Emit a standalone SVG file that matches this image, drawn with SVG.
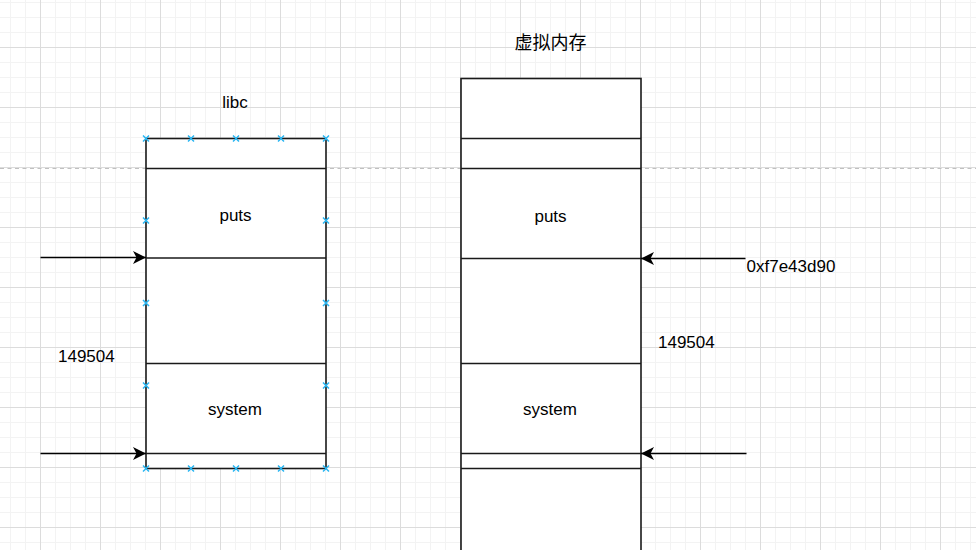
<svg xmlns="http://www.w3.org/2000/svg" width="976" height="550" viewBox="0 0 976 550">
  <defs>
    <pattern id="grid" patternUnits="userSpaceOnUse" x="40" y="47" width="60" height="60">
      <rect x="0" y="0" width="60" height="60" fill="#ffffff"/>
      <rect x="15" y="0" width="1" height="60" fill="#f3f3f3"/>
      <rect x="30" y="0" width="1" height="60" fill="#f3f3f3"/>
      <rect x="45" y="0" width="1" height="60" fill="#f3f3f3"/>
      <rect x="0" y="15" width="60" height="1" fill="#f3f3f3"/>
      <rect x="0" y="30" width="60" height="1" fill="#f3f3f3"/>
      <rect x="0" y="45" width="60" height="1" fill="#f3f3f3"/>
      <rect x="0" y="0" width="1" height="60" fill="#dcdcdc"/>
      <rect x="0" y="0" width="60" height="1" fill="#dcdcdc"/>
    </pattern>
    <marker id="arrow" markerUnits="userSpaceOnUse" viewBox="0 0 14 14" markerWidth="14" markerHeight="14" refX="13" refY="7" orient="auto">
      <path d="M0,0.5 L13,7 L0,13.5 L3.5,7 Z" fill="#000000"/>
    </marker>
    <path id="xmark" d="M-3,-3 L3,3 M-3,3 L3,-3" stroke="#29b6f2" stroke-width="1.5" fill="none"/>
  </defs>
  <style>
    .box { fill: #ffffff; stroke: #1a1a1a; stroke-width: 1.6; }
    .sep { stroke: #1a1a1a; stroke-width: 1.6; fill: none; }
    .lbl { font-family: "Liberation Sans", Arial, sans-serif; font-size: 17px; fill: #000000; }
    .cjk { font-family: "Liberation Sans", "Noto Sans CJK SC", sans-serif; font-size: 18px; fill: #000000; }
    .conn { stroke: #000000; stroke-width: 1.5; fill: none; marker-end: url(#arrow); }
  </style>

  <rect x="0" y="0" width="976" height="550" fill="url(#grid)"/>
  <line x1="0" y1="168.5" x2="976" y2="168.5" stroke="#c0c0c0" stroke-width="1" stroke-dasharray="4 3.5"/>

  <g id="libc-title">
    <text class="lbl" x="235" y="107.5" text-anchor="middle">libc</text>
  </g>

  <g id="libc">
    <rect class="box" x="146" y="138.5" width="180" height="330"/>
    <line class="sep" x1="146" y1="168.5" x2="326" y2="168.5"/>
    <line class="sep" x1="146" y1="258" x2="326" y2="258"/>
    <line class="sep" x1="146" y1="363.5" x2="326" y2="363.5"/>
    <line class="sep" x1="146" y1="453.5" x2="326" y2="453.5"/>
    <text class="lbl" x="235.5" y="221" text-anchor="middle">puts</text>
    <text class="lbl" x="235" y="414.5" text-anchor="middle">system</text>
  </g>

  <g id="libc-handles">
    <use href="#xmark" x="146" y="138.5"/>
    <use href="#xmark" x="191" y="138.5"/>
    <use href="#xmark" x="236" y="138.5"/>
    <use href="#xmark" x="281" y="138.5"/>
    <use href="#xmark" x="326" y="138.5"/>
    <use href="#xmark" x="146" y="468.5"/>
    <use href="#xmark" x="191" y="468.5"/>
    <use href="#xmark" x="236" y="468.5"/>
    <use href="#xmark" x="281" y="468.5"/>
    <use href="#xmark" x="326" y="468.5"/>
    <use href="#xmark" x="146" y="220.5"/>
    <use href="#xmark" x="146" y="303"/>
    <use href="#xmark" x="146" y="385.5"/>
    <use href="#xmark" x="326" y="220.5"/>
    <use href="#xmark" x="326" y="303"/>
    <use href="#xmark" x="326" y="385.5"/>
  </g>

  <g id="vm-title">
    <text class="cjk" x="550.5" y="48.5" text-anchor="middle">虚拟内存</text>
  </g>

  <g id="vm">
    <rect class="box" x="461" y="78.5" width="180" height="490"/>
    <line class="sep" x1="461" y1="138.5" x2="641" y2="138.5"/>
    <line class="sep" x1="461" y1="168.5" x2="641" y2="168.5"/>
    <line class="sep" x1="461" y1="258.5" x2="641" y2="258.5"/>
    <line class="sep" x1="461" y1="363.5" x2="641" y2="363.5"/>
    <line class="sep" x1="461" y1="453.5" x2="641" y2="453.5"/>
    <line class="sep" x1="461" y1="468.5" x2="641" y2="468.5"/>
    <text class="lbl" x="550.5" y="221.5" text-anchor="middle">puts</text>
    <text class="lbl" x="550" y="414.5" text-anchor="middle">system</text>
  </g>

  <g id="label-offset-left">
    <text class="lbl" x="58" y="361.5">149504</text>
  </g>
  <g id="label-offset-right">
    <text class="lbl" x="658" y="347.5">149504</text>
  </g>
  <g id="label-addr">
    <text class="lbl" x="746.5" y="271.5">0xf7e43d90</text>
  </g>

  <g id="connectors">
    <path class="conn" d="M40.5,257.5 L146,257.5"/>
    <path class="conn" d="M40.5,453.5 L146,453.5"/>
    <path class="conn" d="M745.5,258.5 L641,258.5"/>
    <path class="conn" d="M746.5,453.5 L641,453.5"/>
  </g>
</svg>
